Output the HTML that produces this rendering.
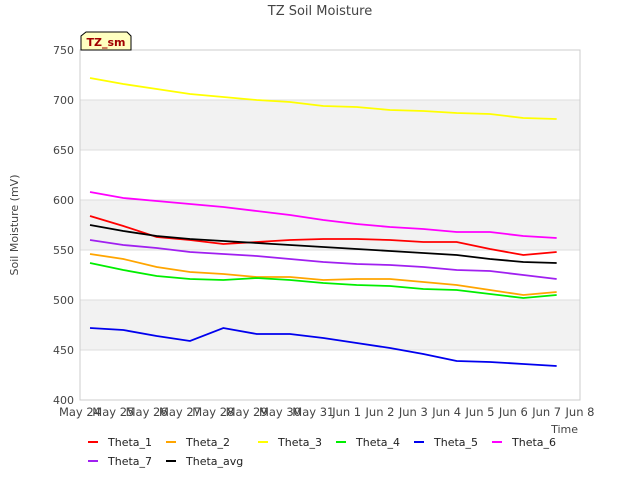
<!DOCTYPE html>
<html><head><meta charset="utf-8"><style>
body{margin:0;background:#fff;font-family:"Liberation Sans",sans-serif}
svg text{font-family:"DejaVu Sans","Liberation Sans",sans-serif}
</style></head><body>
<svg id="c" width="640" height="480">
<text x="320" y="15" text-anchor="middle" font-size="13" fill="#444">TZ Soil Moisture</text>
<g id="bands"></g><g id="grid"></g>
<rect x="80" y="50" width="500" height="350" fill="none" stroke="#ccc"/>
<g id="ticks"></g><g id="series"></g>
<text x="18" y="225" transform="rotate(-90 18 225)" text-anchor="middle" font-size="11" fill="#444">Soil Moisture (mV)</text>
<text x="578" y="433" text-anchor="end" font-size="11" fill="#444">Time</text>
<g>
<path d="M81,50 L81,36 L86,32 L127,32 L131,36 L131,50 Z" fill="#ffffc0" stroke="#000"/>
<text x="106" y="46" text-anchor="middle" font-size="11" font-weight="bold" fill="#a00000">TZ_sm</text></g>
<g id="legend"></g>
</svg>
<script>
const days=[0.3,1.3,2.3,3.3,4.3,5.3,6.3,7.3,8.3,9.3,10.3,11.3,12.3,13.3,14.3];
const xLabels=["May 24","May 25","May 26","May 27","May 28","May 29","May 30","May 31","Jun 1","Jun 2","Jun 3","Jun 4","Jun 5","Jun 6","Jun 7","Jun 8"];
const yTicks=[400,450,500,550,600,650,700,750];
const names=["Theta_1","Theta_2","Theta_3","Theta_4","Theta_5","Theta_6","Theta_7","Theta_avg"];
const colors=["#ff0000","#ffa500","#ffff00","#00ee00","#0000ee","#ff00ff","#a020f0","#000000"];
const theta1=[584,574,563,560,556,558,560,561,561,560,558,558,551,545,548];
const theta2=[546,541,533,528,526,523,523,520,521,521,518,515,510,505,508];
const theta3=[722,716,711,706,703,700,698,694,693,690,689,687,686,682,681];
const theta4=[537,530,524,521,520,522,520,517,515,514,511,510,506,502,505];
const theta5=[472,470,464,459,472,466,466,462,457,452,446,439,438,436,434];
const theta6=[608,602,599,596,593,589,585,580,576,573,571,568,568,564,562];
const theta7=[560,555,552,548,546,544,541,538,536,535,533,530,529,525,521];
const thetaAvg=[575,569,564,561,559,557,555,553,551,549,547,545,541,538,537];
const allSeries=[theta1,theta2,theta3,theta4,theta5,theta6,theta7,thetaAvg];
const NS="http://www.w3.org/2000/svg";
const X=d=>80+d*500/15, Y=v=>400-(v-400)*350/350;
function mk(t,a,p){const e=document.createElementNS(NS,t);for(const k in a)e.setAttribute(k,a[k]);p.appendChild(e);return e;}
const bands=document.getElementById('bands'),grid=document.getElementById('grid'),ticks=document.getElementById('ticks'),ser=document.getElementById('series'),leg=document.getElementById('legend');
for(let i=0;i<yTicks.length-1;i++){if(i%2==1){const r=mk('rect',{x:80,y:Y(yTicks[i+1]),width:500,height:Y(yTicks[i])-Y(yTicks[i+1]),fill:'#f2f2f2'},bands);

}}
yTicks.forEach(v=>{const l=mk('line',{x1:80,x2:580,y1:Y(v),y2:Y(v),stroke:'#ddd'},grid);


const t=mk('text',{x:74,y:Y(v)+4,'text-anchor':'end','font-size':11,fill:'#444'},ticks);t.textContent=v;

});
xLabels.forEach((s,i)=>{const t=mk('text',{x:X(i),y:416,'text-anchor':'middle','font-size':11.5,fill:'#444'},ticks);t.textContent=s;

});
allSeries.forEach((arr,k)=>{const p=mk('polyline',{points:arr.map((v,i)=>X(days[i])+','+Y(v)).join(' '),fill:'none',stroke:colors[k],'stroke-width':1.8},ser);

});
const lx=[88,166,258,336,414,492,88,166],ly=[442,442,442,442,442,442,461,461];
names.forEach((n,k)=>{const g=mk('g',{},leg);


mk('line',{x1:lx[k],x2:lx[k]+10,y1:ly[k],y2:ly[k],stroke:colors[k],'stroke-width':2},g);
const t=mk('text',{x:lx[k]+20,y:ly[k]+4,'font-size':11,fill:'#222'},g);t.textContent=n;});
</script>
</body></html>
